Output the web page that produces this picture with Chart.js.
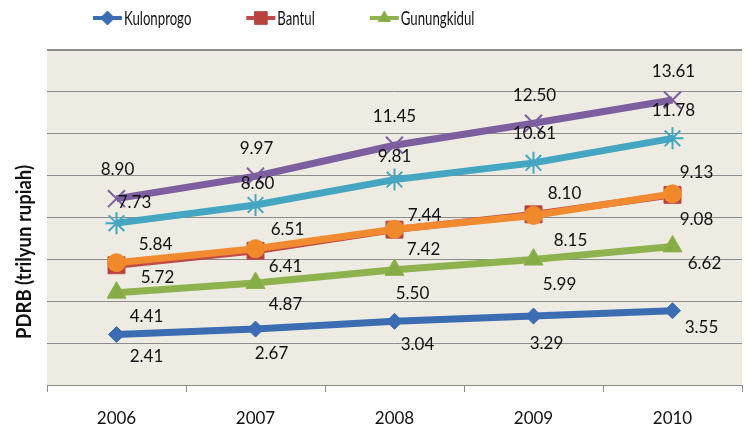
<!DOCTYPE html>
<html><head><meta charset="utf-8">
<script src="https://cdn.jsdelivr.net/npm/chart.js@4.4.0/dist/chart.umd.min.js"></script>
<style>html,body{margin:0;padding:0;background:#fff}canvas{display:block}</style>
</head><body>
<canvas id="c" width="756" height="448"></canvas>
<script>
// ---- data ----
const years = ['2006', '2007', '2008', '2009', '2010'];
const kulonprogo  = [2.41, 2.67, 3.04, 3.29, 3.55];
const bantul      = [5.72, 6.41, 7.42, 8.15, 9.08];
const gunungkidul = [4.41, 4.87, 5.50, 5.99, 6.62];
const series4     = [8.90, 9.97, 11.45, 12.50, 13.61];
const series5     = [7.73, 8.60, 9.81, 10.61, 11.78];
const series6     = [5.84, 6.51, 7.44, 8.10, 9.13];
const seriesNames = ['Kulonprogo', 'Bantul', 'Gunungkidul', 'Seri 4', 'Seri 5', 'Seri 6'];
const legendShown = 3;
const yMin = 0, yMax = 16, yStep = 2;
const yTitle = 'PDRB (trilyun rupiah)';

// ---- styles ----
const FONT = 'Lato, "Open Sans", sans-serif';
const styles = [
  {color:'#3C6DB3', fill:'#3C6DB3', pointStyle:'rectRot',  r:8,  lr:7, bw:1, order:6},
  {color:'#BE4B48', fill:'#B8413C', pointStyle:'rect',     r:12, lr:9, bw:1, order:2},
  {color:'#8DB24E', fill:'#86AD45', pointStyle:'triangle', r:11, lr:7, bw:1, order:5},
  {color:'#7D5FA0', fill:'#7D5FA0', pointStyle:'crossRot', r:12, lr:7, bw:2, order:4},
  {color:'#45A6C2', fill:'#45A6C2', pointStyle:'star',     r:11, lr:7, bw:2, order:3},
  {color:'#F28B2F', fill:'#F0892A', pointStyle:'circle',   r:9,  lr:6, bw:1, order:1}
];
// label offsets relative to each point (dx, dy)
const labelOffsets = [
  [[30,22],[16,24],[23,23],[13,27],[29,17]],
  [[41,12],[30,16],[29,20],[37,26],[24,25]],
  [[30,24],[30,21],[18,24],[26,25],[32,17]],
  [[1,-29],[1,-28],[0,-29],[1,-28],[1,-29]],
  [[18,-21],[2,-21],[0,-23],[1,-29],[1,-28]],
  [[39,-18],[32,-19],[30,-14],[31,-22],[24,-21]]
];

const allSeries = [kulonprogo, bantul, gunungkidul, series4, series5, series6];

const datasets = allSeries.map((d, i) => ({
  label: seriesNames[i],
  data: d,
  borderColor: styles[i].color,
  backgroundColor: styles[i].fill,
  borderWidth: 7,
  tension: 0,
  pointStyle: styles[i].pointStyle,
  pointRadius: styles[i].r,
  pointHoverRadius: styles[i].r,
  pointBorderWidth: styles[i].bw,
  pointBackgroundColor: styles[i].fill,
  pointBorderColor: styles[i].color,
  order: styles[i].order
}));

const bgPlugin = {
  id: 'plotBg',
  beforeDraw(chart) {
    const {ctx, chartArea: a} = chart;
    ctx.save();
    ctx.fillStyle = '#EDEBE2';
    ctx.fillRect(a.left, a.top, a.right - a.left, a.bottom - a.top);
    ctx.restore();
  }
};

const labelPlugin = {
  id: 'valueLabels',
  afterDatasetsDraw(chart) {
    const ctx = chart.ctx;
    ctx.save();
    ctx.font = '17px ' + FONT;
    ctx.fillStyle = '#111';
    ctx.textAlign = 'center';
    ctx.textBaseline = 'middle';
    chart.data.datasets.forEach((ds, i) => {
      const meta = chart.getDatasetMeta(i);
      meta.data.forEach((pt, j) => {
        const off = labelOffsets[i][j];
        ctx.fillText(ds.data[j].toFixed(2), pt.x + off[0], pt.y + off[1]);
      });
    });
    ctx.restore();
  }
};

const legendPlugin = {
  id: 'customLegend',
  afterDraw(chart) {
    const ctx = chart.ctx;
    ctx.save();
    const y = 18;
    let x = 93;
    const sx = 0.66;
    ctx.font = '20px ' + FONT;
    ctx.textBaseline = 'middle';
    ctx.textAlign = 'left';
    for (let i = 0; i < legendShown; i++) {
      const s = styles[i];
      ctx.strokeStyle = s.color;
      ctx.lineWidth = 4;
      ctx.beginPath();
      ctx.moveTo(x, y); ctx.lineTo(x + 29, y);
      ctx.stroke();
      ctx.fillStyle = s.fill;
      ctx.strokeStyle = s.color;
      ctx.lineWidth = 1;
      Chart.helpers.drawPoint(ctx, {pointStyle: s.pointStyle, radius: s.lr, rotation: 0, borderWidth: 1}, x + 14.5, y);
      const tx = x + 31;
      const w = ctx.measureText(seriesNames[i]).width * sx;
      ctx.save();
      ctx.translate(tx, y);
      ctx.scale(sx, 1);
      ctx.fillStyle = '#111';
      ctx.fillText(seriesNames[i], 0, 1);
      ctx.restore();
      x = tx + w + 55;
    }
    // y title
    ctx.save();
    ctx.font = 'bold 21px ' + FONT;
    const tw = ctx.measureText(yTitle).width;
    const target = 174;
    ctx.translate(24, 252);
    ctx.rotate(-Math.PI / 2);
    ctx.scale(target / tw, 1);
    ctx.textAlign = 'center';
    ctx.textBaseline = 'middle';
    ctx.fillStyle = '#111';
    ctx.fillText(yTitle, 0, 0);
    ctx.restore();
    ctx.restore();
  }
};

new Chart(document.getElementById('c'), {
  type: 'line',
  data: { labels: years, datasets },
  options: {
    responsive: false,
    devicePixelRatio: 1,
    animation: false,
    layout: { padding: { top: 50, right: 3, left: 0, bottom: 0 } },
    plugins: { legend: { display: false }, tooltip: { enabled: false } },
    scales: {
      x: {
        offset: true,
        grid: { offset: true, drawOnChartArea: false, tickLength: 7, color: '#8C8C8C' },
        border: { color: '#8C8C8C', width: 1 },
        ticks: { font: { family: FONT, size: 17 }, color: '#111', padding: 16 },
        afterFit(s) { s.height = 63; }
      },
      y: {
        min: yMin, max: yMax,
        ticks: { display: false, stepSize: yStep },
        grid: { color: '#8C8C8C', lineWidth: c => (c.tick && c.tick.value === yMax) ? 2 : 1, drawTicks: false },
        border: { display: false },
        afterFit(s) { s.width = 47; }
      }
    }
  },
  plugins: [bgPlugin, labelPlugin, legendPlugin]
});
</script>
</body></html>
